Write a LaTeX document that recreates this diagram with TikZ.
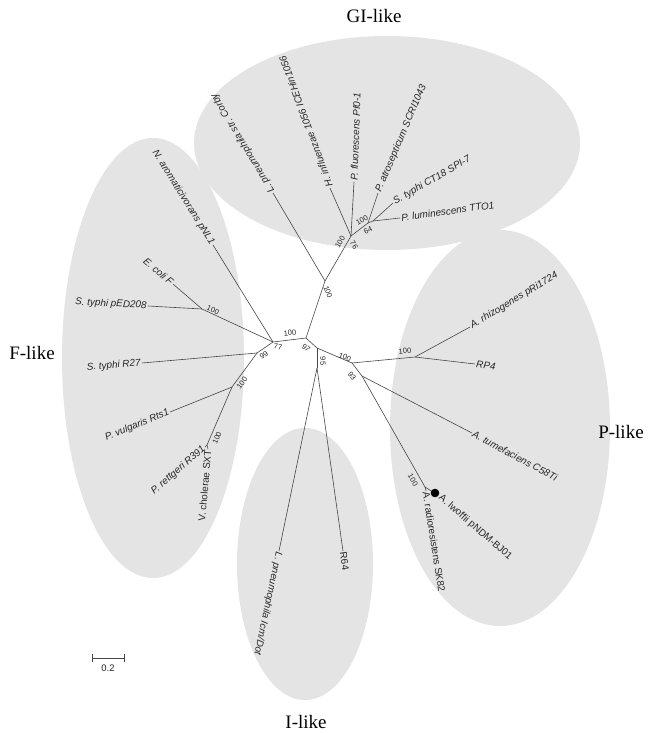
\documentclass[tikz,border=0pt]{standalone}
\usepackage{fontspec}
\usetikzlibrary{calc}
\setmainfont{Liberation Sans}
\newfontfamily\serifbig{Liberation Serif}
\definecolor{ellgray}{RGB}{228,228,228}
\definecolor{branchcol}{RGB}{70,70,70}
\tikzset{
 clade/.style={fill=ellgray, draw=none},
 br/.style={draw=branchcol, line width=0.6pt},
 leafw/.style={anchor=west, inner sep=1.2pt, font=\fontsize{9.9}{10}\selectfont\itshape, text=black!85},
 leafe/.style={anchor=east, inner sep=1.2pt, font=\fontsize{9.9}{10}\selectfont\itshape, text=black!85},
 upr/.style={font=\fontsize{9.9}{10}\selectfont\upshape},
 boot/.style={font=\fontsize{7.5}{8}\selectfont, inner sep=0pt, text=black!85},
 grouplab/.style={font=\serifbig\fontsize{19}{22}\selectfont, inner sep=0pt}
}
\begin{document}
\begin{tikzpicture}[x=1pt,y=-1pt]
\useasboundingbox[fill=white] (0,0) rectangle (654,733);
% clade ellipses
\fill[clade] (387,143) ellipse [x radius=193, y radius=107];
\fill[clade] (153,358) ellipse [x radius=91, y radius=220];
\fill[clade] (305,564) ellipse [x radius=68, y radius=136];
\fill[clade] (500,428) ellipse [x radius=110, y radius=198];
% internal nodes
\coordinate (F) at (273,342);
\coordinate (F2) at (257,353);
\coordinate (F3) at (232,387);
\coordinate (F4) at (207,445);
\coordinate (EC) at (202,309);
\coordinate (A) at (306,338);
\coordinate (B) at (317,348);
\coordinate (I) at (317,368);
\coordinate (P) at (352,363);
\coordinate (Q) at (362,376);
\coordinate (RZ) at (415,357);
\coordinate (L) at (425,487);
\coordinate (G1) at (325,281);
\coordinate (G2) at (351,236);
\coordinate (G3) at (368,223);
\coordinate (G4) at (373,221);
% tips
\coordinate (tNA) at (213,245);
\coordinate (tEC) at (173,284);
\coordinate (tED) at (148,306);
\coordinate (tR27) at (142,363);
\coordinate (tRts) at (170,412);
\coordinate (tRet) at (205,447);
\coordinate (tSXT) at (208,449);
\coordinate (tCor) at (273,193);
\coordinate (tHin) at (330,188);
\coordinate (tPf) at (354,182);
\coordinate (tPat) at (378,193);
\coordinate (tSty) at (393,203);
\coordinate (tPlu) at (400,218);
\coordinate (tRhi) at (470,327);
\coordinate (tRP4) at (475,364);
\coordinate (tTum) at (472,433);
\coordinate (tLw) at (433,492);
\coordinate (tRad) at (426,491);
\coordinate (tIcm) at (279,551);
\coordinate (tR64) at (343,551);
\coordinate (dotc) at (435,493);
\coordinate (tLwT) at (439,496);
% branches
\draw[br] (F) -- (A);
\draw[br] (A) -- (B);
\draw[br] (A) -- (G1);
\draw[br] (B) -- (I);
\draw[br] (B) -- (P);
\draw[br] (F) -- (tNA);
\draw[br] (F) -- (EC);
\draw[br] (F) -- (F2);
\draw[br] (EC) -- (tEC);
\draw[br] (EC) -- (tED);
\draw[br] (F2) -- (tR27);
\draw[br] (F2) -- (F3);
\draw[br] (F3) -- (tRts);
\draw[br] (F3) -- (F4);
\draw[br] (F4) -- (tRet);
\draw[br] (F4) -- (tSXT);
\draw[br] (I) -- (tIcm);
\draw[br] (I) -- (tR64);
\draw[br] (P) -- (RZ);
\draw[br] (P) -- (Q);
\draw[br] (RZ) -- (tRhi);
\draw[br] (RZ) -- (tRP4);
\draw[br] (Q) -- (tTum);
\draw[br] (Q) -- (L);
\draw[br] (L) -- (tLw);
\draw[br] (L) -- (tRad);
\draw[br] (G1) -- (tCor);
\draw[br] (G1) -- (G2);
\draw[br] (G2) -- (tHin);
\draw[br] (G2) -- (tPf);
\draw[br] (G2) -- (G3);
\draw[br] (G3) -- (tPat);
\draw[br] (G3) -- (G4);
\draw[br] (G4) -- (tSty);
\draw[br] (G4) -- (tPlu);
% highlighted plasmid
\fill[black] (dotc) circle (4.3pt);
% leaf labels
\node[leafe, rotate=-58] (lNA) at (tNA) {N. aromaticivorans pNL1};
\node[leafe, rotate=-41] (lEC) at (tEC) {E. coli F};
\node[leafe, rotate=-3] (lED) at (tED) {S. typhi pED208};
\node[leafe, rotate=5] (lR27) at (tR27) {S. typhi R27};
\node[leafe, rotate=22] (lRts) at (tRts) {P. vulgaris Rts1};
\node[leafe, rotate=41] (lRet) at (tRet) {P. rettgeri R391};
\node[leafe, upr, rotate=85] (lSXT) at (tSXT) {V. cholerae SXT};
\node[leafw, rotate=121] (lCor) at (tCor) {L. pneumophila str. Corby};
\node[leafw, rotate=110] (lHin) at (tHin) {H. influenzae 1056 ICEHin1056};
\node[leafw, rotate=88] (lPf) at (tPf) {P. fluorescens Pf0-1};
\node[leafw, rotate=67] (lPat) at (tPat) {P. atrosepticum SCRI1043};
\node[leafw, rotate=30] (lSty) at (tSty) {S. typhi CT18 SPI-7};
\node[leafw, rotate=8] (lPlu) at (tPlu) {P. luminescens TTO1};
\node[leafw, rotate=31] (lRhi) at (tRhi) {A. rhizogenes pRi1724};
\node[leafw, rotate=-7] (lRP4) at (tRP4) {RP4};
\node[leafw, rotate=-28] (lTum) at (tTum) {A. tumefaciens C58Ti};
\node[leafw, upr, rotate=-41] (lLw) at (tLwT) {A. lwoffii pNDM-BJ01};
\node[leafw, upr, rotate=-81] (lRad) at (tRad) {A. radioresistens SK82};
\node[leafw, rotate=-102] (lIcm) at (tIcm) {L. pneumophila Icm/Dot};
\node[leafw, upr, rotate=-82] (lR64) at (tR64) {R64};
% bootstrap values
\node[boot, rotate=7] (b1) at (290,333) {100};
\node[boot, rotate=-10] (b2) at (278,347) {77};
\node[boot, rotate=34] (b3) at (264,355) {99};
\node[boot, rotate=-42] (b4) at (306,348) {97};
\node[boot, rotate=-90] (b5) at (323,361) {95};
\node[boot, rotate=-22] (b6) at (345,357) {100};
\node[boot, rotate=-52] (b7) at (352,376) {93};
\node[boot, rotate=5] (b8) at (405,351) {100};
\node[boot, rotate=-60] (b9) at (413,480) {100};
\node[boot, rotate=-70] (b10) at (328,292) {100};
\node[boot, rotate=60] (b11) at (340,242) {100};
\node[boot, rotate=-60] (b12) at (354,245) {76};
\node[boot, rotate=30] (b13) at (362,220) {100};
\node[boot, rotate=25] (b14) at (368,230) {64};
\node[boot, rotate=-25] (b15) at (213,310) {100};
\node[boot, rotate=54] (b16) at (242,383) {100};
\node[boot, rotate=67] (b17) at (217,438) {100};
% group labels
\node[grouplab] (gGI) at (374,16) {GI-like};
\node[grouplab] (gF) at (32,353) {F-like};
\node[grouplab] (gP) at (621,432) {P-like};
\node[grouplab] (gI) at (306,722) {I-like};
% scale bar
\coordinate (s1) at (92,658);
\coordinate (s2) at (124,658);
\draw[br] (s1) -- (s2);
\draw[br] (s1) ++(0,-4) -- ++(0,8);
\draw[br] (s2) ++(0,-4) -- ++(0,8);
\node[boot, font=\fontsize{9.5}{10}\selectfont] (sl) at (108,668) {0.2};
\end{tikzpicture}
\end{document}
